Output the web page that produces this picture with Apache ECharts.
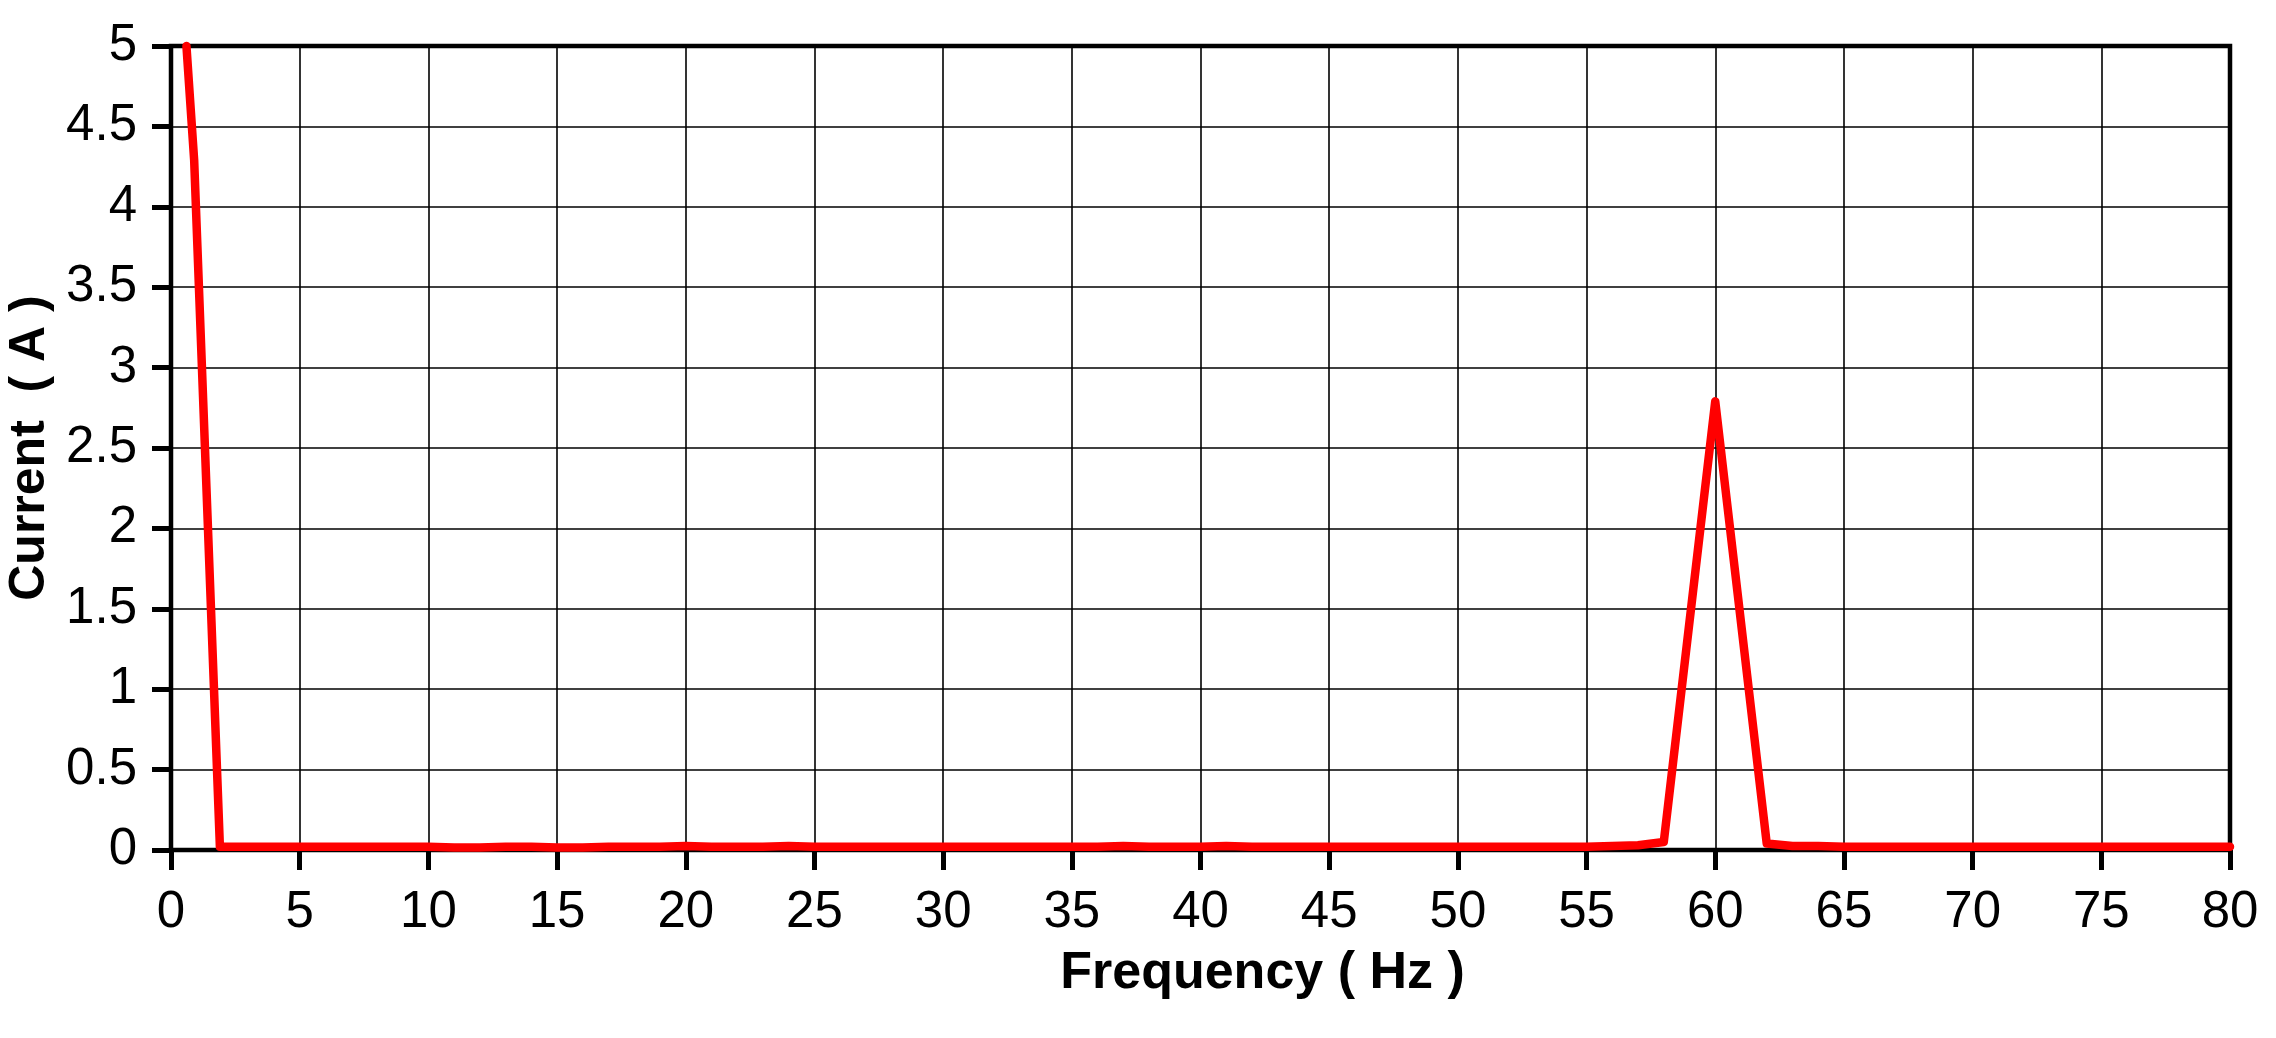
<!DOCTYPE html>
<html>
<head>
<meta charset="utf-8">
<script src="https://cdn.jsdelivr.net/npm/echarts@6/dist/echarts.min.js"></script>
<style>
html,body{margin:0;padding:0;background:#fff;}
#chart{width:2276px;height:1038px;}
</style>
</head>
<body>
<div id="chart"></div>
<script>
// Frequency (Hz) and current (A)
const frequency = [0.6, 0.9, 1.9, 3, 4, 5, 6, 7, 8, 9, 10, 11, 12, 13, 14, 15, 16, 17, 18, 19, 20, 21, 22, 23, 24, 25, 26, 27, 28, 29, 30, 31, 32, 33, 34, 35, 36, 37, 38, 39, 40, 41, 42, 43, 44, 45, 46, 47, 48, 49, 50, 51, 52, 53, 54, 55, 56, 57, 58, 60, 62, 63, 64, 65, 66, 67, 68, 69, 70, 71, 72, 73, 74, 75, 76, 77, 78, 79, 80];
const current = [5.0, 4.29, 0.02, 0.02, 0.02, 0.02, 0.02, 0.02, 0.02, 0.02, 0.02, 0.015, 0.015, 0.02, 0.02, 0.015, 0.015, 0.02, 0.02, 0.02, 0.025, 0.02, 0.02, 0.02, 0.025, 0.02, 0.02, 0.02, 0.02, 0.02, 0.02, 0.02, 0.02, 0.02, 0.02, 0.02, 0.02, 0.025, 0.02, 0.02, 0.02, 0.025, 0.02, 0.02, 0.02, 0.02, 0.02, 0.02, 0.02, 0.02, 0.02, 0.02, 0.02, 0.02, 0.02, 0.02, 0.025, 0.03, 0.05, 2.79, 0.04, 0.025, 0.025, 0.02, 0.02, 0.02, 0.02, 0.02, 0.02, 0.02, 0.02, 0.02, 0.02, 0.02, 0.02, 0.02, 0.02, 0.02, 0.02];
const xTicks = [0, 5, 10, 15, 20, 25, 30, 35, 40, 45, 50, 55, 60, 65, 70, 75, 80];
const yTicks = [0, 0.5, 1, 1.5, 2, 2.5, 3, 3.5, 4, 4.5, 5];
const xTitle = 'Frequency ( Hz )';
const yTitle = 'Current  ( A )';

const FONT = '"Liberation Sans Narrow", "Arial Narrow", "Liberation Sans", Arial, sans-serif';

const chart = echarts.init(document.getElementById('chart'), null, {renderer: 'canvas'});
chart.setOption({
  animation: false,
  backgroundColor: '#ffffff',
  grid: {
    left: 171, right: 46, top: 46, bottom: 188,
    containLabel: false,
    outerBoundsMode: 'none',
    show: true, borderColor: '#000', borderWidth: 4.5, backgroundColor: 'transparent'
  },
  xAxis: {
    type: 'value',
    min: xTicks[0], max: xTicks[xTicks.length - 1], interval: 5,
    offset: 10,
    axisLine: {show: false},
    axisTick: {show: true, length: 20, lineStyle: {color: '#000', width: 5}},
    axisLabel: {
      color: '#000', fontFamily: FONT, fontSize: 51, margin: 27,
      formatter: v => String(v)
    },
    splitLine: {show: true, lineStyle: {color: '#000', width: 1.6}},
    name: xTitle,
    nameLocation: 'middle',
    nameGap: 88,
    nameTextStyle: {color: '#000', fontFamily: FONT, fontWeight: 'bold', fontSize: 52, padding: [0, 0, 0, 124]}
  },
  yAxis: {
    type: 'value',
    min: yTicks[0], max: yTicks[yTicks.length - 1], interval: 0.5,
    offset: 9,
    axisLine: {show: false},
    axisTick: {show: true, length: 19, lineStyle: {color: '#000', width: 5}},
    axisLabel: {
      color: '#000', fontFamily: FONT, fontSize: 51, margin: 25,
      formatter: v => String(v)
    },
    splitLine: {show: true, lineStyle: {color: '#000', width: 1.6}},
    name: yTitle,
    nameLocation: 'middle',
    nameGap: 92,
    nameTextStyle: {color: '#000', fontFamily: FONT, fontWeight: 'bold', fontSize: 50}
  },
  series: [{
    type: 'line',
    data: frequency.map((f, i) => [f, current[i]]),
    showSymbol: false,
    symbol: 'none',
    clip: false,
    lineStyle: {color: '#ff0000', width: 8.5, cap: 'round', join: 'round'},
    z: 5
  }]
});
</script>
</body>
</html>
